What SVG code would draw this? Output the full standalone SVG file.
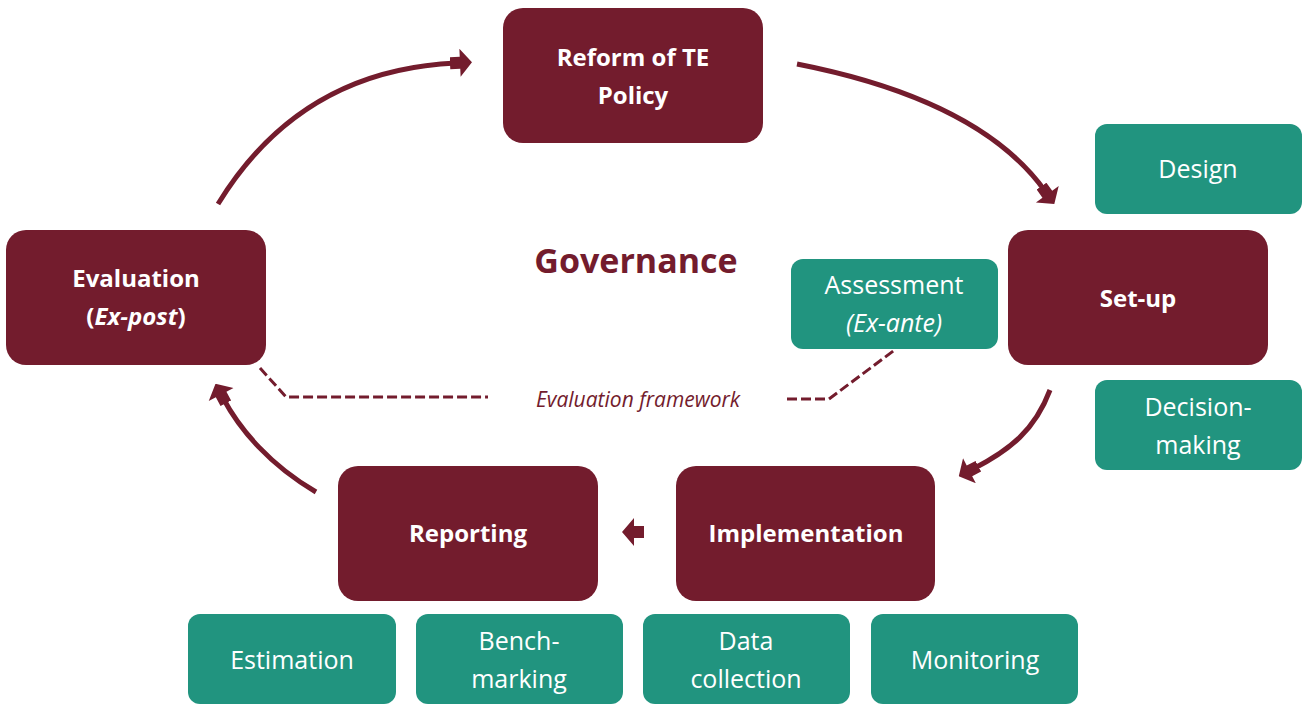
<svg xmlns="http://www.w3.org/2000/svg" xmlns:xlink="http://www.w3.org/1999/xlink" width="1304" height="705" viewBox="0 0 1304 705">
<style>
.main{fill:#731c2d}
.sub{fill:#21947f}
.mt{font-family:"Open Sans","Liberation Sans",sans-serif;font-weight:bold;font-size:24px;fill:#ffffff;text-anchor:middle}
.st{font-family:"Open Sans","Liberation Sans",sans-serif;font-size:25px;fill:#ffffff;text-anchor:middle}
.arc{fill:none;stroke:#731c2d;stroke-width:5}
.dash{fill:none;stroke:#731c2d;stroke-width:3;stroke-dasharray:10 4}
</style>
<defs>
<path id="ah" d="M0,0 L-12,-14 L-12,-6 L-22,-6 L-22,6 L-12,6 L-12,14 Z" fill="#731c2d"/>
<marker id="arr" markerUnits="userSpaceOnUse" viewBox="-22 -14 22 28" refX="-16" refY="0" markerWidth="22" markerHeight="28" orient="auto">
<use xlink:href="#ah"/>
</marker>
</defs>
<rect width="1304" height="705" fill="#ffffff"/>
<g id="connectors">
<path class="arc" d="M218,204 Q300,70 456,63" marker-end="url(#arr)"/>
<path class="arc" d="M797,64 Q980,100 1045,191" marker-end="url(#arr)"/>
<path class="arc" d="M1050,390 C1035,430 1010,450 973,469" marker-end="url(#arr)"/>
<use xlink:href="#ah" transform="translate(622,532) rotate(180)"/>
<path class="arc" d="M316,492 C270,465 240,430 223,398" marker-end="url(#arr)"/>
<path class="dash" d="M260,368 L286,397 L488,397"/>
<path class="dash" d="M787,399 L829,399 L896,349"/>
</g>
<g id="governance">
<text x="636" y="273" font-family="'Open Sans','Liberation Sans',sans-serif" font-weight="bold" font-size="34" fill="#731c2d" text-anchor="middle">Governance</text>
</g>
<g id="eval-framework">
<text x="638" y="407" font-family="'Open Sans','Liberation Sans',sans-serif" font-style="italic" font-size="21" fill="#731c2d" text-anchor="middle">Evaluation framework</text>
</g>
<g id="reform">
<rect class="main" x="503" y="8" width="260" height="135" rx="20"/>
<text class="mt" x="633" y="66">Reform of TE</text>
<text class="mt" x="633" y="104">Policy</text>
</g>
<g id="setup">
<rect class="main" x="1008" y="230" width="260" height="135" rx="20"/>
<text class="mt" x="1138" y="307">Set-up</text>
</g>
<g id="implementation">
<rect class="main" x="676" y="466" width="259" height="135" rx="20"/>
<text class="mt" x="806" y="542">Implementation</text>
</g>
<g id="reporting">
<rect class="main" x="338" y="466" width="260" height="135" rx="20"/>
<text class="mt" x="468" y="542">Reporting</text>
</g>
<g id="evaluation">
<rect class="main" x="6" y="230" width="260" height="135" rx="20"/>
<text class="mt" x="136" y="287">Evaluation</text>
<text class="mt" x="136" y="325">(<tspan font-style="italic">Ex-post</tspan>)</text>
</g>
<g id="design">
<rect class="sub" x="1095" y="124" width="207" height="90" rx="12"/>
<text class="st" x="1198" y="178">Design</text>
</g>
<g id="decision">
<rect class="sub" x="1095" y="380" width="207" height="90" rx="12"/>
<text class="st" x="1198" y="416">Decision-</text>
<text class="st" x="1198" y="454">making</text>
</g>
<g id="assessment">
<rect class="sub" x="791" y="259" width="207" height="90" rx="12"/>
<text class="st" x="894" y="294">Assessment</text>
<text class="st" x="894" y="332" font-style="italic">(Ex-ante)</text>
</g>
<g id="estimation">
<rect class="sub" x="188" y="614" width="208" height="90" rx="12"/>
<text class="st" x="292" y="669">Estimation</text>
</g>
<g id="benchmarking">
<rect class="sub" x="416" y="614" width="207" height="90" rx="12"/>
<text class="st" x="519" y="650">Bench-</text>
<text class="st" x="519" y="688">marking</text>
</g>
<g id="datacollection">
<rect class="sub" x="643" y="614" width="207" height="90" rx="12"/>
<text class="st" x="746" y="650">Data</text>
<text class="st" x="746" y="688">collection</text>
</g>
<g id="monitoring">
<rect class="sub" x="871" y="614" width="207" height="90" rx="12"/>
<text class="st" x="975" y="669">Monitoring</text>
</g>
</svg>
